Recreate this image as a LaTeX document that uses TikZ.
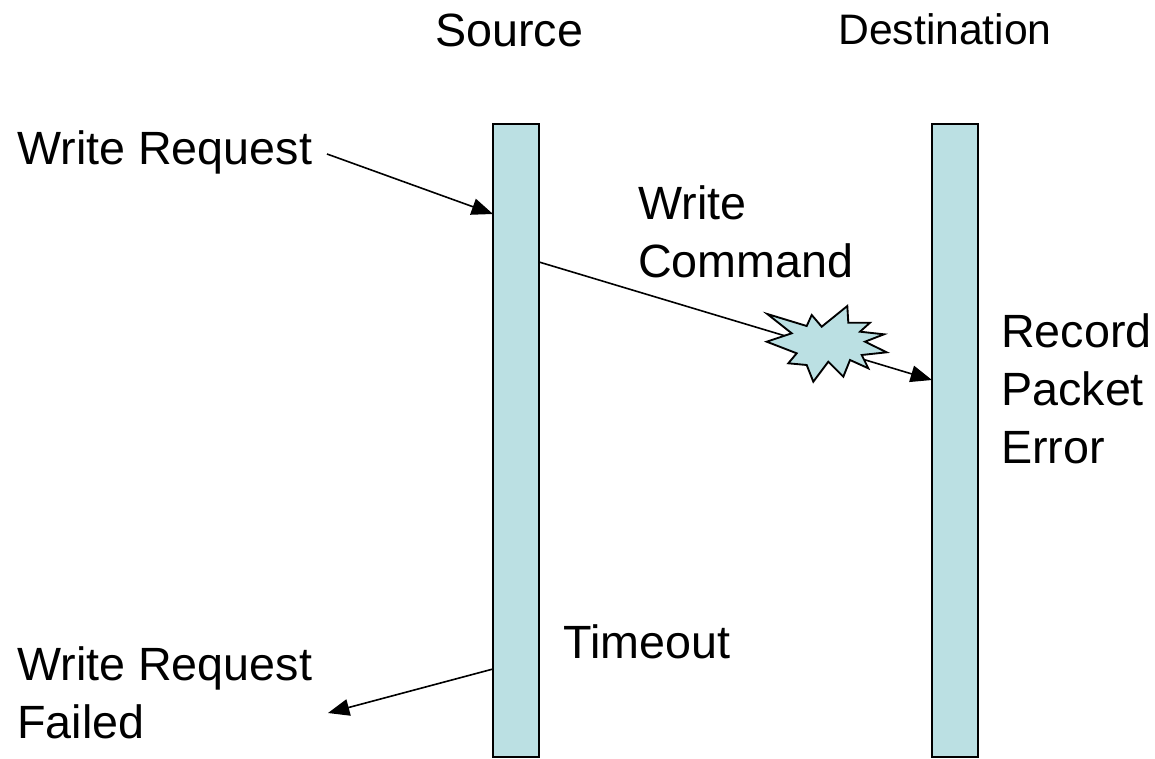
\documentclass[tikz,border=0pt]{standalone}
\usepackage{fontspec}
\setmainfont{Liberation Sans}
\usetikzlibrary{arrows.meta}
\definecolor{barfill}{RGB}{187,224,227}
\begin{document}
\begin{tikzpicture}[x=0.75pt,y=-0.75pt,
  bar/.style={draw=black, line width=1.5pt, fill=barfill, inner sep=0pt, outer sep=0pt,
    minimum width=34.5pt, minimum height=474.75pt},
  lbl/.style={font=\fontsize{35}{43.5}\selectfont, inner sep=0pt, anchor=base west, align=left},
  arr/.style={line width=1.2pt, -{Triangle[length=16pt,width=12.5pt]}},
  burst/.style={draw=black, line width=1.4pt, fill=barfill, line join=miter}]
\useasboundingbox (0,0) rectangle (1155,759);
% lifelines
\node[bar] (src) at (516,440.5) {};
\node[bar] (dst) at (955,440.5) {};
% headings
\node[lbl] (hsrc) at (435,47) {Source};
\node[lbl, font=\fontsize{32}{40}\selectfont] (hdst) at (838,45) {Destination};
% labels (base anchor = last line's baseline)
\node[lbl] (wreq) at (17,165) {Write Request};
\node[lbl] (wcmd) at (638,277) {Write\\Command};
\node[lbl] (rec) at (1001,463) {Record\\Packet\\Error};
\node[lbl] (tout) at (563,658) {Timeout};
\node[lbl] (wfail) at (17,738) {Write Request\\Failed};
% connector end points
\coordinate (a1s) at (327,154);
\coordinate (a1e) at (493,214);
\coordinate (a2s) at (539,262);
\coordinate (a2e) at (932,380);
\coordinate (a3s) at (493,669);
\coordinate (a3e) at (328,713);
\draw[arr] (a1s) -- (a1e);
\draw[arr] (a2s) -- (a2e);
\draw[arr] (a3s) -- (a3e);
% packet error burst
\draw[burst] (767.3,314) -- (806.7,326) -- (811.7,315) -- (821.7,326.7) -- (847.3,306)
  -- (848.3,322.7) -- (870,322.7) -- (860,331.7) -- (884,334.3) -- (865,341.7)
  -- (886.7,352.3) -- (861.7,355) -- (868.3,368.3) -- (850,360) -- (843.3,376.7)
  -- (828.3,361.7) -- (813.3,381.7) -- (806.7,365) -- (788.3,363.3) -- (796.7,353.3)
  -- (766.7,341.7) -- (791.7,333.3) -- cycle;
\end{tikzpicture}
\end{document}
